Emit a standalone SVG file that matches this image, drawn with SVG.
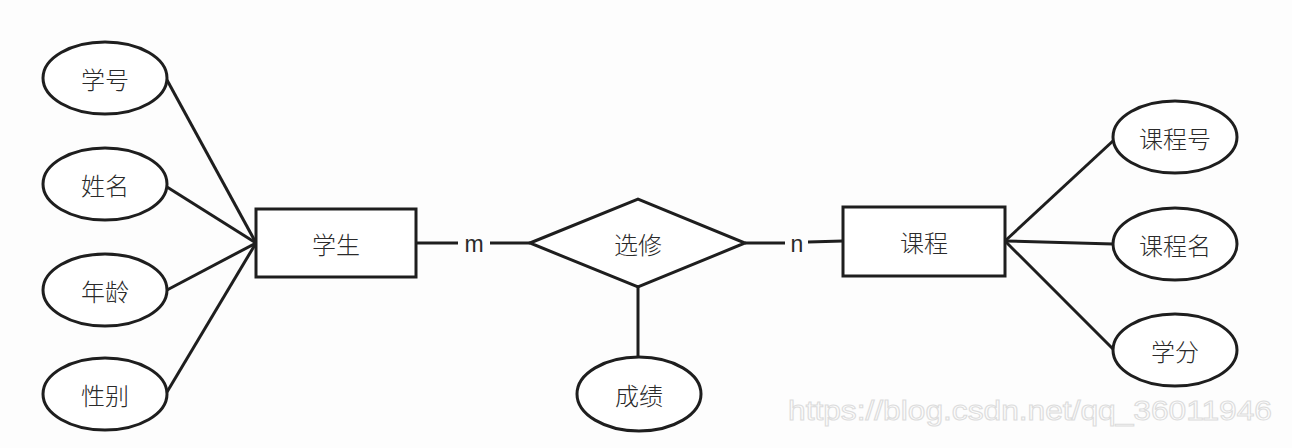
<svg xmlns="http://www.w3.org/2000/svg" width="1292" height="448" viewBox="0 0 1292 448">
<style>
.shape{fill:#fff;stroke:#1e1e1e;stroke-width:3}
.conn line{stroke:#1e1e1e;stroke-width:3}
.lbl{font-family:"Noto Sans CJK SC","Liberation Sans",sans-serif;font-size:24px;font-weight:300;fill:#2a2a2a;text-anchor:middle;dominant-baseline:central}
.card{font-family:"Liberation Sans",sans-serif;font-size:23px;fill:#2a2a2a;text-anchor:middle}
.wm{font-family:"Liberation Sans",sans-serif;font-size:27px;fill:none;stroke:#dcdcdc;stroke-width:1}
</style>
<rect width="1292" height="448" fill="#fdfdfd"/>
<g id="connectors" class="conn">
<line x1="167" y1="80" x2="256" y2="243"/>
<line x1="167" y1="187" x2="256" y2="243"/>
<line x1="167" y1="290" x2="256" y2="243"/>
<line x1="167" y1="392" x2="256" y2="243"/>
<line x1="416" y1="243" x2="458" y2="243"/>
<line x1="490" y1="243" x2="530" y2="243"/>
<line x1="745" y1="243" x2="785" y2="243"/>
<line x1="808" y1="242" x2="843" y2="241"/>
<line x1="638" y1="287" x2="638" y2="357"/>
<line x1="1005" y1="241" x2="1114" y2="140"/>
<line x1="1005" y1="241" x2="1113" y2="244"/>
<line x1="1005" y1="241" x2="1114" y2="350"/>
<text class="card" x="474" y="252">m</text>
<text class="card" x="797" y="252">n</text>
</g>
<g id="attr-xuehao"><ellipse class="shape" cx="105" cy="78" rx="62" ry="36"/><text class="lbl" x="105" y="78">学号</text></g>
<g id="attr-xingming"><ellipse class="shape" cx="105" cy="184" rx="62" ry="36"/><text class="lbl" x="105" y="184">姓名</text></g>
<g id="attr-nianling"><ellipse class="shape" cx="105" cy="290" rx="62" ry="36"/><text class="lbl" x="105" y="290">年龄</text></g>
<g id="attr-xingbie"><ellipse class="shape" cx="105" cy="394" rx="62" ry="36"/><text class="lbl" x="105" y="394">性别</text></g>
<g id="entity-student"><rect class="shape" x="256" y="209" width="160" height="68"/><text class="lbl" x="336" y="243">学生</text></g>
<g id="rel-xuanxiu"><polygon class="shape" points="530,243 638,199 745,243 638,287"/><text class="lbl" x="638" y="243">选修</text></g>
<g id="attr-chengji"><ellipse class="shape" cx="639" cy="394" rx="62" ry="37"/><text class="lbl" x="639" y="394">成绩</text></g>
<g id="entity-course"><rect class="shape" x="843" y="207" width="162" height="69"/><text class="lbl" x="924" y="241">课程</text></g>
<g id="attr-kechenghao"><ellipse class="shape" cx="1175" cy="137" rx="62" ry="36"/><text class="lbl" x="1175" y="137">课程号</text></g>
<g id="attr-kechengming"><ellipse class="shape" cx="1175" cy="244" rx="62" ry="36"/><text class="lbl" x="1175" y="244">课程名</text></g>
<g id="attr-xuefen"><ellipse class="shape" cx="1175" cy="350" rx="62" ry="36"/><text class="lbl" x="1175" y="350">学分</text></g>
<text class="wm" x="788" y="420" textLength="484" lengthAdjust="spacingAndGlyphs">https://blog.csdn.net/qq_36011946</text>
</svg>
